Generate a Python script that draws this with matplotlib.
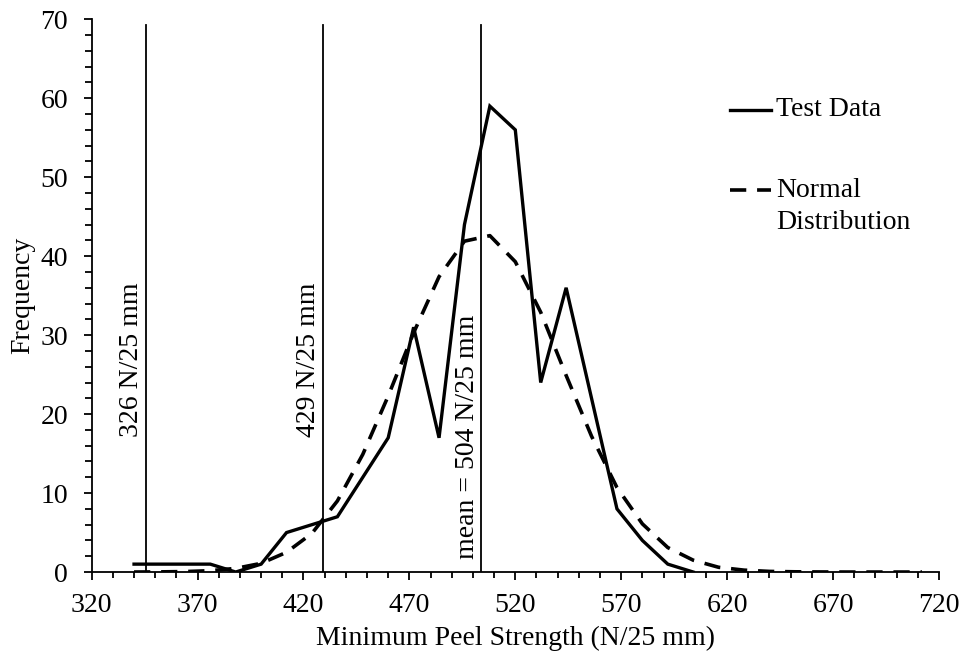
import matplotlib.pyplot as plt
from matplotlib.lines import Line2D
from matplotlib.ticker import FixedLocator

plt.rcParams['font.family'] = ['Liberation Serif', 'DejaVu Serif']

# test data (bins with counts)
test_x = [340, 376, 388, 400, 412, 436, 460, 472, 484, 496, 508, 520, 532, 544, 568, 580, 592, 604]
test_y = [1, 1, 0, 1, 5, 7, 17, 31, 17, 44, 59, 56, 24, 36, 8, 4, 1, 0]

# fitted normal distribution
norm_x = [340, 352, 364, 376, 388, 400, 412, 424, 436, 448, 460, 472, 484, 496, 508,
          520, 532, 544, 556, 568, 580, 592, 604, 616, 628, 640, 652, 664, 676, 688, 700, 712]
norm_y = [0.0, 0.02, 0.06, 0.17, 0.46, 1.1, 2.5, 4.9, 9.0, 14.9, 22.3, 30.3, 37.4, 41.9, 42.6,
          39.3, 32.9, 24.9, 17.2, 10.7, 6.1, 3.1, 1.5, 0.6, 0.24, 0.08, 0.03, 0.01, 0.0, 0.0, 0.0, 0.0]

# reference lines: position on the chart and their labels
ref_x = [345.5, 429, 504]
ref_labels = ['326 N/25 mm', '429 N/25 mm', 'mean = 504 N/25 mm']
ref_label_y = [17.1, 17.1, 1.7]

x_major = list(range(320, 721, 50))
x_minor = list(range(320, 721, 10))
y_major = list(range(0, 71, 10))
y_minor = list(range(0, 71, 2))

FS = 20

fig = plt.figure(figsize=(9.62, 6.56), dpi=100)
ax = fig.add_axes([0.0953, 0.128, 0.8807, 0.8426])

ax.plot(test_x, test_y, color='black', lw=2.4, solid_joinstyle='miter')
ax.plot(norm_x, norm_y, color='black', lw=2.6, dashes=(4.5, 3))

for x, lab, ly in zip(ref_x, ref_labels, ref_label_y):
    ax.plot([x, x], [0, 69.3], color='black', lw=1.3)
    ax.annotate(lab, xy=(x, ly), xytext=(-1, 0), textcoords='offset points',
                rotation=90, ha='right', va='bottom', fontsize=FS)

ax.set_xlim(320, 720)
ax.set_ylim(0, 70)
ax.xaxis.set_major_locator(FixedLocator(x_major))
ax.xaxis.set_minor_locator(FixedLocator(x_minor))
ax.yaxis.set_major_locator(FixedLocator(y_major))
ax.yaxis.set_minor_locator(FixedLocator(y_minor))
ax.tick_params(axis='x', which='major', length=6, width=1.3, labelsize=FS, pad=9)
ax.tick_params(axis='x', which='minor', length=4, width=1.3)
ax.tick_params(axis='y', which='major', length=6, width=1.3, labelsize=FS, pad=11)
ax.tick_params(axis='y', which='minor', length=5, width=1.3)
for s in ['top', 'right']:
    ax.spines[s].set_visible(False)
for s in ['left', 'bottom']:
    ax.spines[s].set_linewidth(1.3)

ax.set_xlabel('Minimum Peel Strength (N/25 mm)', fontsize=FS, labelpad=6)
ax.set_ylabel('Frequency', fontsize=FS, labelpad=4)

# legend drawn by hand so the dashed handle sits next to the first line
ax.add_line(Line2D([0.754, 0.802], [0.836, 0.836], transform=ax.transAxes,
                   color='black', lw=2.4))
ax.text(0.808, 0.836, 'Test Data', transform=ax.transAxes, fontsize=FS, va='center')
ax.add_line(Line2D([0.754, 0.802], [0.691, 0.691], transform=ax.transAxes,
                   color='black', lw=2.6, dashes=(4.5, 3)))
ax.text(0.808, 0.691, 'Normal', transform=ax.transAxes, fontsize=FS, va='center')
ax.text(0.808, 0.633, 'Distribution', transform=ax.transAxes, fontsize=FS, va='center')

fig.savefig('out.png', dpi=100)
